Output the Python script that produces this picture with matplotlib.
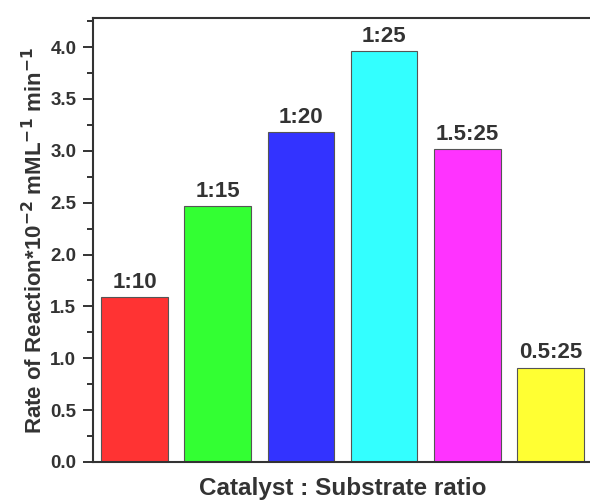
import matplotlib.pyplot as plt
from matplotlib.ticker import MultipleLocator

plt.rcParams['font.family'] = ['Liberation Sans', 'DejaVu Sans']
plt.rcParams['font.weight'] = 'bold'

ratios = ['1:10', '1:15', '1:20', '1:25', '1.5:25', '0.5:25']
rates = [1.59, 2.47, 3.18, 3.96, 3.02, 0.91]
colors = ['#ff3333', '#33ff33', '#3333ff', '#33ffff', '#ff33ff', '#ffff33']

ink = '#333333'

fig = plt.figure(figsize=(5.9, 5.04), dpi=100)
ax = fig.add_axes([93 / 590, 42 / 504, 499 / 590, 444 / 504])

pos = range(1, len(rates) + 1)
ax.bar(pos, rates, width=0.8, color=colors, edgecolor='#555555', linewidth=0.8)

for x, v, lab in zip(pos, rates, ratios):
    ax.text(x, v + 0.04, lab, ha='center', va='bottom', fontsize=16,
            fontweight='bold', color=ink)

ax.set_xlim(0.5, 6.5)
ax.set_ylim(0, 4.28)
ax.yaxis.set_major_locator(MultipleLocator(0.5))
ax.yaxis.set_minor_locator(MultipleLocator(0.25))
ax.yaxis.set_major_formatter(plt.FormatStrFormatter('%.1f'))
ax.set_xticks([])

ax.tick_params(axis='y', which='major', direction='out', length=7.5, width=1.4,
               color=ink, labelsize=13.5, labelcolor=ink, pad=4.5)
ax.tick_params(axis='y', which='minor', direction='out', length=4.5, width=1.4,
               color=ink)
for s in ax.spines.values():
    s.set_color(ink)
    s.set_linewidth(1.5)

ax.set_ylabel('Rate of Reaction*10$^{\\mathbf{-2}}$ mML$^{\\mathbf{-1}}$ min$^{\\mathbf{-1}}$',
              fontsize=16, fontweight='bold', color=ink, labelpad=2)
ax.set_xlabel('Catalyst : Substrate ratio', fontsize=17.5, fontweight='bold',
              color=ink, labelpad=11)

fig.savefig('out.png', dpi=100)
